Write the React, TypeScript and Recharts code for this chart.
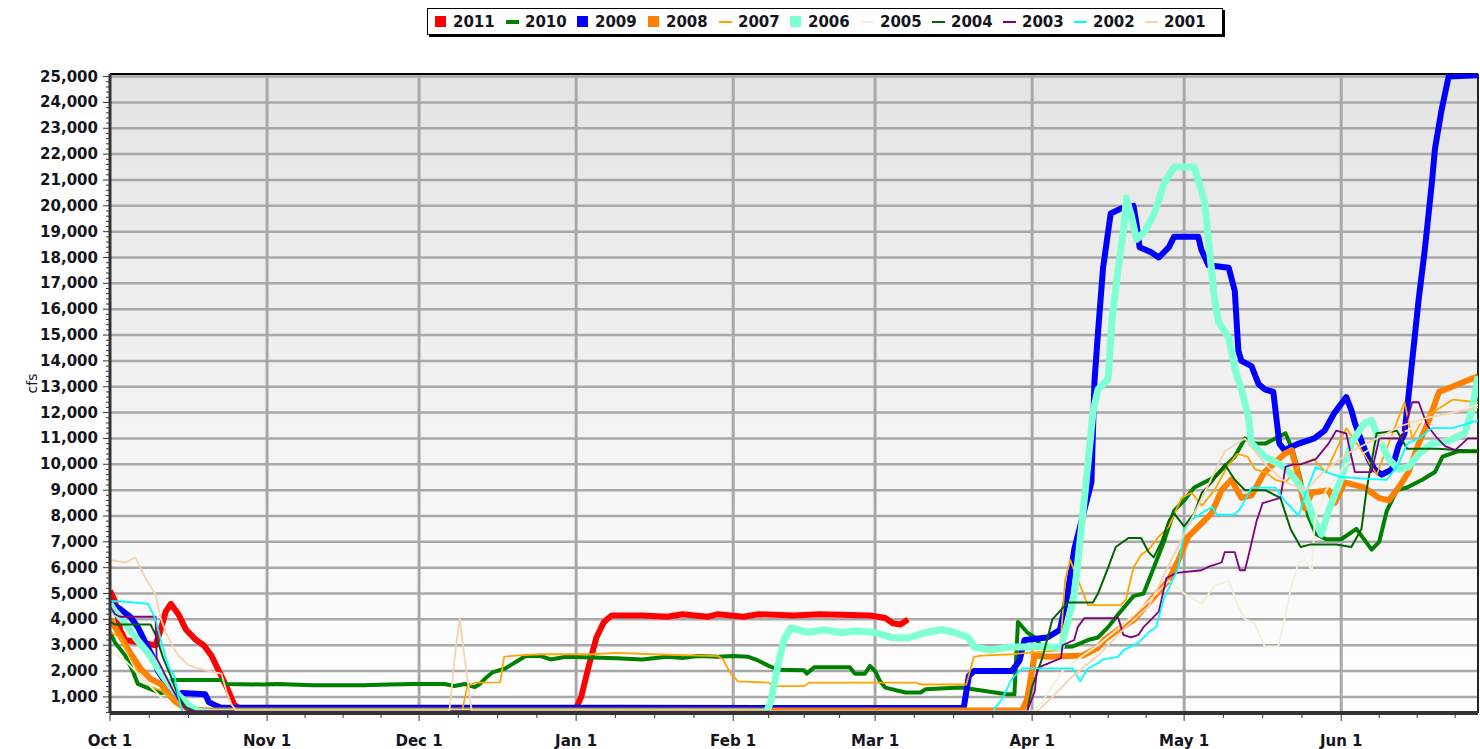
import React from 'react';
import { CartesianGrid, Line, LineChart, ReferenceLine, XAxis, YAxis } from 'recharts';

// day of water year (0 = Oct 1), cfs
const s2011 = [
  [0, 5100], [1, 4700], [2, 3600], [3, 3200], [6, 3100], [9, 3000], [10, 3600], [11, 4300], [12, 4600],
  [13.5, 4200], [15, 3600], [17, 3200], [18.5, 3000], [20, 2600], [21.5, 2000], [23, 1400], [24.5, 700],
  [25.5, 560], [92, 560], [93, 1000], [94.5, 2200], [96, 3300], [97.5, 3900], [99, 4150], [105, 4150],
  [110, 4100], [113, 4200], [118, 4100], [120, 4200], [125, 4100], [128, 4200], [135, 4150], [140, 4200],
  [150, 4150], [153, 4050], [154.5, 3850], [156, 3800], [157.5, 4000],
];

const s2010 = [
  [0, 3500], [1, 3100], [3, 2600], [4.5, 2000], [5.5, 1500], [8, 1300], [10, 1150], [11.5, 1200], [12.3, 1650],
  [22, 1650], [23, 1500], [30, 1480], [33, 1500], [40, 1450], [50, 1450], [55, 1480], [60, 1500], [66, 1500],
  [68, 1420], [70, 1500], [72, 1380], [73, 1500], [74, 1700], [75.5, 1950], [78, 2100], [80.5, 2400],
  [82, 2580], [85, 2580], [87, 2450], [90, 2550], [100, 2500], [105, 2450], [110, 2550], [113, 2500],
  [116, 2580], [120, 2550], [123, 2580], [126, 2550], [128, 2400], [130, 2200], [132, 2050], [137, 2030],
  [137.5, 1900], [139, 2150], [146, 2150], [147, 1900], [149, 1900], [150, 2200], [151, 2000], [152, 1600],
  [153, 1360], [157, 1170], [160, 1170], [161, 1300], [168, 1360], [172, 1250], [177, 1100], [178.5, 1100],
  [179.2, 3900], [181, 3500], [182.5, 3300], [184, 2900], [190, 2950], [193, 3200], [195, 3300], [197, 3700],
  [199, 4200], [202, 4900], [204, 5000], [206, 6000], [208, 7000], [210, 8200], [212, 8600], [214, 9100],
  [216, 9300], [218, 9500], [220, 9900], [222, 10300], [224, 11000], [226, 10800], [228, 10800], [230, 11000],
  [232, 11200], [233.5, 10500], [235, 9400], [236.5, 8000], [238, 7300], [240, 7100], [243, 7100], [246, 7500],
  [249, 6700], [250.5, 7000], [252, 8200], [254, 9000], [256, 9100], [259, 9400], [261.5, 9700], [263, 10300],
  [266, 10500], [270, 10500],
];

const s2009 = [
  [0, 4600], [2, 4400], [4, 4100], [5.5, 3700], [7, 3100], [8.3, 2600], [9.5, 2000], [10.5, 1700],
  [12.3, 1250], [13.5, 950], [14.2, 1150], [18.8, 1100], [19.5, 800], [21, 650], [22, 580], [100, 580],
  [140, 570], [168.5, 580], [169.5, 1800], [170.5, 2000], [178, 2000], [179.5, 2400], [180.5, 3200],
  [185, 3300], [187.5, 3600], [189, 5000], [190.3, 6700], [193.7, 9300], [194.3, 13200], [195, 15100],
  [196, 17600], [197, 19000], [197.5, 19700], [199.6, 19900], [202, 20000], [202.6, 19300], [203.2, 18400],
  [205.5, 18200], [207, 18000], [209, 18400], [210, 18800], [214.8, 18800], [215.4, 18300], [216.8, 17700],
  [220.8, 17600], [222, 16700], [222.7, 14400], [223.3, 14000], [225.3, 13800], [226.7, 13100],
  [227.9, 12900], [229.6, 12800], [230.2, 11800], [230.8, 10800], [231.8, 10550], [234.6, 10800],
  [237.7, 11000], [239.7, 11300], [241.7, 12000], [244, 12600], [245, 12100], [245.7, 11600], [247, 10900],
  [248.4, 10200], [249.6, 9800], [251, 9600], [253, 9800], [254.3, 10700], [255.5, 11200], [256.9, 13800],
  [258.3, 16400], [259.5, 18300], [260.9, 20900], [261.5, 22200], [262.8, 23700], [264.2, 25000], [270, 25050],
];

const s2008 = [
  [0, 4000], [1, 3700], [2.5, 3200], [4, 2700], [6, 2100], [8, 1700], [10, 1500], [12, 1000], [14, 600],
  [16, 500], [20, 470], [180, 470], [181, 900], [182.5, 2600], [185, 2550], [192, 2600], [195, 2900],
  [196.2, 3200], [199, 3600], [202.2, 4000], [205.5, 4750], [208.9, 5500], [210.9, 6300], [212.8, 7200],
  [215.4, 7700], [217.4, 8100], [219.4, 9000], [221.3, 9400], [223.3, 8700], [225.3, 8800], [227.9, 9700],
  [231.8, 10400], [233.2, 10550], [234.6, 9500], [235.8, 8300], [237.2, 8900], [240.5, 9000], [241.7, 8500],
  [243.7, 9300], [247.6, 9100], [250.4, 8700], [252.4, 8600], [254.3, 9100], [256.3, 9700], [258.3, 10800],
  [260.3, 11700], [262.3, 12800], [264.9, 13000], [267.4, 13200], [270, 13400],
];

const s2007 = [
  [0, 3500], [2, 3300], [4, 2500], [6, 1800], [8, 1400], [10, 1250], [12, 1000], [14, 700], [16, 450],
  [69.5, 450], [70.5, 1400], [72, 1550], [77, 1560], [77.8, 2550], [80, 2600], [85, 2650], [95, 2650],
  [100, 2700], [107, 2650], [120, 2580], [121, 2450], [122.5, 1900], [124, 1600], [130, 1550], [131, 1420],
  [137, 1420], [138, 1550], [159, 1550], [160, 1480], [169, 1480], [170.5, 2550], [172, 2600], [178, 2650],
  [181, 2700], [187.5, 2800], [188.5, 5500], [189.5, 6300], [191.5, 5300], [193, 4550], [199.5, 4550],
  [200.5, 4750], [202, 6000], [203.5, 6500], [205, 6700], [207, 7200], [209, 7600], [211.5, 8700],
  [213.5, 8900], [215.5, 8400], [218, 9000], [220.5, 9900], [222.5, 10400], [224.5, 10300], [226, 9800],
  [228, 9700], [230, 9400], [232, 9300], [235, 10000], [237.5, 10200], [240, 9700], [244, 11400],
  [247.5, 10400], [250, 9600], [255.5, 12400], [257, 11000], [259, 11700], [261, 12000], [265, 12500],
  [270, 12400],
];

const s2006 = [
  [0, 4600], [1, 4300], [2.4, 4000], [5, 3300], [7.5, 2700], [10.3, 1850], [12.8, 1200], [15.4, 700],
  [17.4, 450], [20, 400], [129.5, 400], [130.4, 800], [131.8, 2200], [133, 3200], [134.4, 3670],
  [137.7, 3500], [141, 3600], [144.3, 3480], [147, 3550], [150.8, 3500], [154.2, 3300], [157.5, 3280],
  [160.7, 3480], [164, 3600], [166.6, 3500], [169.4, 3300], [170.6, 2930], [173.9, 2800], [177.3, 2930],
  [180.4, 2930], [184, 2950], [187.7, 2900], [190.3, 4900], [191.7, 7500], [193, 10000], [194, 12000],
  [195, 12900], [197, 13300], [197.8, 15700], [199, 17600], [200, 19000], [200.6, 20300], [201.6, 19600],
  [202.6, 18700], [204.2, 19000], [206.1, 19700], [208.1, 20900], [210, 21500], [214, 21500], [216, 20200],
  [217, 18300], [218, 16400], [218.8, 15500], [220.8, 14900], [222, 13700], [223.3, 12900], [224.7, 11800],
  [225.3, 10800], [227.9, 10300], [231.8, 9900], [234, 9400], [235.8, 8900], [237.7, 7800], [239.1, 7300],
  [240.5, 8200], [243.1, 9500], [245, 10800], [247.6, 11600], [249, 11700], [250.4, 11000], [252.4, 10200],
  [254.3, 9800], [256.3, 9900], [258.3, 10400], [260.9, 10800], [264.2, 10900], [267.4, 11200],
  [268.8, 12100], [270, 13400],
];

const s2005 = [
  [0, 2800], [3, 2400], [6, 1800], [10, 1000], [14, 500], [16, 430], [182, 430], [184, 800], [186, 1400],
  [188, 2000], [192, 2600], [195, 3000], [200, 3800], [205, 4700], [209, 5500], [212, 5000], [215.4, 4600],
  [218, 5300], [220.8, 5500], [222.7, 4500], [224, 4000], [225.9, 3850], [227.9, 2950], [230.6, 2950],
  [231.8, 4000], [233.2, 5300], [234.6, 6200], [235.8, 6300], [237.2, 5900], [237.8, 7850], [240, 9000],
  [244, 10000], [248, 10500], [252, 11000], [256, 11300], [260, 11800], [265, 12000], [270, 12300],
];

const s2004 = [
  [0, 3900], [1, 3800], [8, 3800], [9, 3400], [10.5, 2500], [12, 1800], [13.5, 1000], [15, 600], [17, 420],
  [181, 420], [182, 1400], [184, 2500], [186, 4000], [189, 4650], [194, 4650], [195, 5000], [197, 6000],
  [198.5, 6800], [201, 7150], [203.5, 7150], [205, 6600], [206, 6400], [207.5, 7000], [209, 7850],
  [210, 8100], [212, 7600], [214, 8100], [215.5, 8900], [217.5, 9300], [220, 10000], [222, 9400],
  [224, 9000], [228, 9000], [231, 8700], [233, 7500], [235, 6800], [237, 6900], [242, 6900], [245, 6800],
  [247, 7500], [248, 9000], [250, 11200], [254, 11300], [256, 10600], [262, 10600], [270, 10500],
];

const s2003 = [
  [0, 4500], [1, 4200], [2, 4100], [9, 4100], [9.2, 2500], [10, 2200], [11, 1800], [12.3, 1300],
  [13.5, 900], [15, 500], [17, 450], [181, 450], [182.5, 1200], [183, 2100], [184, 2200], [187.7, 2500],
  [188, 3000], [190.3, 3200], [191, 3700], [192.3, 4050], [199, 4050], [200, 3400], [201.5, 3300],
  [203, 3400], [204, 3700], [207, 4300], [208.5, 5600], [210.5, 5800], [215.4, 5900], [217, 6050],
  [219.4, 6200], [220, 6600], [222, 6600], [223, 5900], [224, 5900], [225, 6700], [226.3, 7800],
  [227.5, 8500], [231, 8700], [232, 9900], [233.5, 10000], [235, 10000], [238, 10200], [240.5, 10800],
  [242, 11300], [244, 11200], [245, 10300], [245.7, 9700], [249, 9700], [250.5, 11000], [255, 11000],
  [257, 12400], [258.3, 12400], [260, 11500], [262, 11000], [263.5, 10700], [265.5, 10550], [268, 11000],
  [270, 11000],
];

const s2002 = [
  [0, 4700], [2, 4700], [7.5, 4600], [9, 4000], [10.3, 3000], [11.5, 2200], [12.8, 1750], [13.5, 1000],
  [14.3, 420], [16, 390], [174, 390], [176, 900], [178, 1700], [180, 2100], [190, 2100], [191.5, 1600],
  [193, 2100], [195, 2300], [196, 2450], [199, 2550], [200, 2800], [203, 3100], [205, 3500], [206.5, 3700],
  [208, 4800], [210.9, 6000], [212, 7450], [213.5, 7850], [215.4, 8100], [217.5, 8350], [218.5, 8050],
  [222, 8050], [223.3, 8350], [225.3, 9100], [230, 9100], [231.8, 8600], [234.6, 8000], [236, 8900],
  [238, 9900], [240, 9700], [243, 9500], [252, 9400], [254.3, 10000], [256, 10800], [258.3, 11000],
  [260.9, 11400], [265, 11400], [270, 11700],
];

const s2001 = [
  [0, 6300], [3, 6200], [5, 6400], [7, 5600], [9, 4950], [10, 4050], [11, 3500], [12.3, 3000], [13.5, 2600],
  [15.4, 2240], [17.4, 2100], [20.2, 1970], [22, 1900], [23, 1200], [24, 700], [25, 450], [67, 450],
  [68, 2500], [69, 4050], [70, 2500], [71.4, 450], [183, 450], [186, 1000], [190, 1800], [195, 2600],
  [200, 3600], [205, 4500], [210, 6500], [215, 8500], [220, 10500], [224, 11000], [228, 10000], [232, 9300],
  [236, 9000], [240, 9800], [245, 10500], [250, 11000], [255, 11500], [260, 11800], [265, 12000], [270, 12200],
];

const monthStarts = [0, 31, 61, 92, 123, 151, 182, 212, 243];
const monthLabels = ['Oct 1', 'Nov 1', 'Dec 1', 'Jan 1', 'Feb 1', 'Mar 1', 'Apr 1', 'May 1', 'Jun 1'];

const series = [
  { name: '2011', data: s2011, color: '#ff0000', width: 6, mark: 'square' },
  { name: '2010', data: s2010, color: '#008000', width: 4, mark: 'dash' },
  { name: '2009', data: s2009, color: '#0000ff', width: 6, mark: 'square' },
  { name: '2008', data: s2008, color: '#ff8000', width: 6, mark: 'square' },
  { name: '2007', data: s2007, color: '#ffa500', width: 1.8, mark: 'dash' },
  { name: '2006', data: s2006, color: '#7fffd4', width: 7, mark: 'square' },
  { name: '2005', data: s2005, color: '#f3f0d8', width: 1.8, mark: 'dash' },
  { name: '2004', data: s2004, color: '#006400', width: 2, mark: 'dash' },
  { name: '2003', data: s2003, color: '#800080', width: 1.8, mark: 'dash' },
  { name: '2002', data: s2002, color: '#00ffff', width: 1.8, mark: 'dash' },
  { name: '2001', data: s2001, color: '#f5d3b0', width: 1.8, mark: 'dash' },
];

const toPoints = (pairs: number[][]) => pairs.map(([day, cfs]) => ({ day, cfs }));

const xTicks: number[] = [];
monthStarts.forEach((start, i) => {
  const len = (monthStarts[i + 1] ?? 273) - start;
  for (let k = 0; k < 4; k++) {
    const d = start + (len * k) / 4;
    if (d <= 270) xTicks.push(d);
  }
});

const yTicks: number[] = [];
for (let v = 400; v <= 25000; v += 200) yTicks.push(v);
const yMajor = yTicks.filter((v) => v % 1000 === 0);

const FONT = '"DejaVu Sans", Verdana, sans-serif';

function YTick({ x, y, payload }: any) {
  const major = payload.value % 1000 === 0;
  return (
    <g>
      <line x1={x - (major ? 7 : 4)} x2={x} y1={y} y2={y} stroke='#333' strokeWidth={1} />
      {major && (
        <text x={x - 12} y={y} dy={5} textAnchor='end' fontFamily={FONT} fontWeight='bold' fontSize={15} fill='#151520'>
          {payload.value.toLocaleString('en-US')}
        </text>
      )}
    </g>
  );
}

function XTick({ x, y, payload }: any) {
  const idx = monthStarts.indexOf(payload.value);
  const major = idx >= 0;
  return (
    <g>
      <line x1={x} x2={x} y1={y} y2={y + (major ? 8 : 5)} stroke='#333' strokeWidth={1} />
      {major && (
        <text x={x} y={y + 33} textAnchor='middle' fontFamily={FONT} fontWeight='bold' fontSize={15} fill='#151520'>
          {monthLabels[idx]}
        </text>
      )}
    </g>
  );
}

function LegendBox() {
  return (
    <div
      style={{
        position: 'absolute',
        left: 427,
        top: 8,
        height: 25,
        padding: '0 6px 0 7px',
        border: '1px solid #000',
        boxShadow: '2px 2px 0 #000',
        background: '#fff',
        display: 'flex',
        alignItems: 'center',
        fontFamily: FONT,
        fontWeight: 'bold',
        fontSize: 15,
        color: '#151520',
        whiteSpace: 'nowrap',
      }}
    >
      {series.map((s) => (
        <div key={s.name} style={{ display: 'flex', alignItems: 'center', width: 71 }}>
          <span
            style={{
              display: 'inline-block',
              width: s.mark === 'square' ? 11 : 13,
              height: s.mark === 'square' ? 11 : Math.max(2, Math.min(4, s.width)),
              background: s.color,
              marginRight: s.mark === 'square' ? 7 : 6,
            }}
          />
          <span>{s.name}</span>
        </div>
      ))}
    </div>
  );
}

export default function App() {
  return (
    <div style={{ position: 'absolute', left: 0, top: 0, width: 1480, height: 749, background: '#fff', fontFamily: FONT }}>
      <LineChart width={1480} height={749} margin={{ top: 74, right: 2, bottom: 0, left: 0 }}>
        <defs>
          <linearGradient id='plotBg' x1='0' y1='0' x2='0' y2='1'>
            <stop offset='0%' stopColor='#e4e4e4' />
            <stop offset='100%' stopColor='#ffffff' />
          </linearGradient>
        </defs>
        <CartesianGrid
          fill='url(#plotBg)'
          vertical={false}
          horizontalValues={yMajor}
          stroke='#a8a8a8'
          strokeWidth={2.5}
        />
        <CartesianGrid
          horizontal={false}
          verticalValues={monthStarts.slice(1)}
          stroke='#a8a8a8'
          strokeWidth={3}
        />
        <XAxis
          dataKey='day'
          type='number'
          domain={[0, 270]}
          ticks={xTicks}
          interval={0}
          allowDataOverflow
          height={36}
          tickSize={0}
          tickMargin={0}
          tickLine={false}
          tick={(p: any) => <XTick {...p} />}
          axisLine={{ stroke: '#333', strokeWidth: 4 }}
        />
        <YAxis
          type='number'
          domain={[377, 25100]}
          ticks={yTicks}
          interval={0}
          allowDataOverflow
          width={110}
          tickSize={0}
          tickMargin={0}
          tickLine={false}
          tick={(p: any) => <YTick {...p} />}
          axisLine={{ stroke: '#333', strokeWidth: 3 }}
          label={{ value: 'cfs', angle: -90, position: 'insideLeft', offset: 32, style: { fontFamily: FONT, fontSize: 14, fill: '#151520' } }}
        />
        <ReferenceLine y={25100} stroke='#000' strokeWidth={2} />
        <ReferenceLine x={270} stroke='#222' strokeWidth={2} />
        {series.map((s) => (
          <Line
            key={s.name}
            data={toPoints(s.data)}
            dataKey='cfs'
            name={s.name}
            type='linear'
            stroke={s.color}
            strokeWidth={s.width}
            strokeLinejoin='round'
            dot={false}
            activeDot={false}
            isAnimationActive={false}
          />
        ))}
      </LineChart>
      <LegendBox />
    </div>
  );
}
